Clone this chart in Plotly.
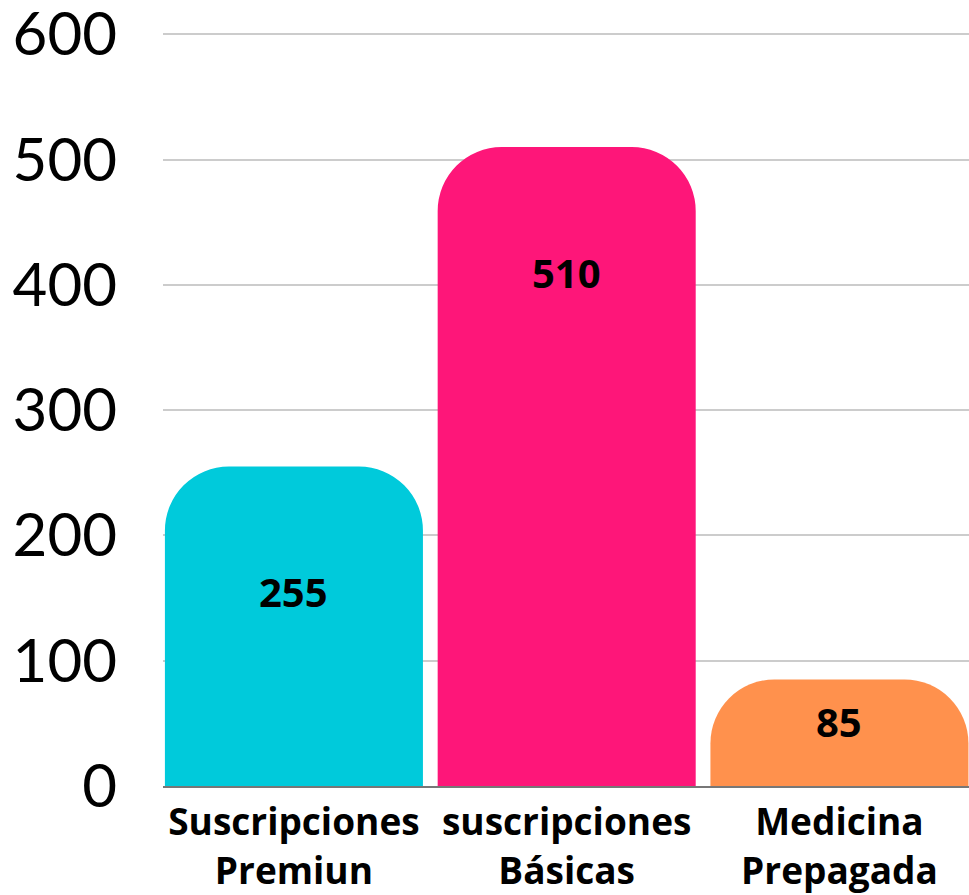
import plotly.graph_objects as go

categories = ["Suscripciones<br>Premiun", "suscripciones<br>Básicas", "Medicina<br>Prepagada"]
values = [255, 510, 85]
colors = ["#00CADB", "#FE1679", "#FF914D"]
label_shift = [-125, -125, -42]
y_ticks = [0, 100, 200, 300, 400, 500, 600]

fig = go.Figure()
fig.add_trace(go.Bar(
    x=categories, y=values,
    marker=dict(color=colors, cornerradius=64, line=dict(width=0)),
    hoverinfo="skip",
))
for c, v, s in zip(categories, values, label_shift):
    fig.add_annotation(x=c, y=v, xref="x", yref="y", text=f"<b>{v}</b>",
                       showarrow=False, yshift=s, yanchor="middle",
                       font=dict(family="Open Sans", size=40, color="#000000"))

fig.update_layout(
    width=969, height=895,
    margin=dict(l=163, r=0, t=33, b=109),
    paper_bgcolor="white", plot_bgcolor="white",
    bargap=0.054, showlegend=False,
    xaxis=dict(
        range=[-0.48, 2.475],
        tickfont=dict(family="Open Sans", size=37, color="#000000"),
        showgrid=False, showline=True, linecolor="#777777", linewidth=2,
        ticks="", ticklabelstandoff=3, automargin=False,
        tickprefix="<b>", ticksuffix="</b>",
    ),
    yaxis=dict(
        range=[0, 601], tickvals=y_ticks,
        tickfont=dict(family="Lato", size=60, color="#000000"),
        showgrid=True, gridcolor="#CCCCCC", gridwidth=2,
        zeroline=False, ticks="", ticklabelstandoff=45,
        showline=False, automargin=False, ticklabeloverflow="allow",
    ),
)
fig.write_html(
    "out.html",
    config={"displayModeBar": False},
    post_script="document.body.style.margin='0';document.body.style.overflow='hidden';",
)
